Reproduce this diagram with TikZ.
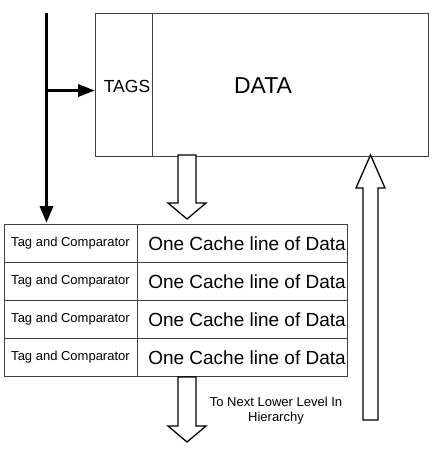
\documentclass[tikz,border=0pt]{standalone}
\usepackage{fontspec}
\setmainfont{Liberation Sans}
\usetikzlibrary{arrows.meta}
\begin{document}
\begin{tikzpicture}[x=1pt,y=-1pt,
  boxline/.style={draw=black!75,line width=0.9pt},
  thickarrow/.style={line width=3.4pt,-{Triangle[length=17pt,width=13pt]}},
  hollow/.style={draw=black,line width=1.3pt,fill=white,line join=miter},
  cell/.style={font=\fontsize{13}{15}\selectfont,inner sep=0pt},
  bigcell/.style={font=\fontsize{19}{22}\selectfont,inner sep=0pt}]
\useasboundingbox (0,0) rectangle (437,462);
% top block
\draw[boxline] (95,13) rectangle (428,156);
\draw[boxline] (152,13) -- (152,156);
\node[font=\fontsize{17.5}{20}\selectfont,inner sep=0pt] (tags) at (127,86) {TAGS};
\node[font=\fontsize{23}{26}\selectfont,inner sep=0pt] (data) at (263,86) {DATA};
\coordinate (topleft) at (95,90.5);
% table
\foreach \i/\y in {1/224,2/262,3/300,4/338}{
  \draw[boxline] (4,\y) rectangle (137,\y+38.3);
  \draw[boxline] (137,\y) rectangle (347,\y+38.3);
  \node[cell] (tag\i) at (70.5,\y+19.5) {Tag and Comparator};
  \node[bigcell] (line\i) at (247,\y+19.5) {One Cache line of Data};
}
% thick arrows
\coordinate (vtop) at (46.5,13);
\coordinate (vbot) at (46.5,223);
\coordinate (hstart) at (46.5,90.5);
\draw[thickarrow] (vtop) -- (vbot);
\draw[thickarrow,-{Triangle[length=17pt,width=12pt]}] (hstart) -- (topleft);
% hollow down arrow (top block to table)
\draw[hollow] (178,155) -- (196,155) -- (196,203) -- (206,203) -- (187,219) -- (168,203) -- (178,203) -- cycle;
% hollow down arrow (table to next level)
\draw[hollow] (178,377) -- (196,377) -- (196,426) -- (206,426) -- (187,442) -- (168,426) -- (178,426) -- cycle;
% hollow up arrow
\draw[hollow] (363,420) -- (378,420) -- (378,188) -- (385,188) -- (370.5,155) -- (356,188) -- (363,188) -- cycle;
\node[cell,align=center] (next) at (276,410.5) {To Next Lower Level In\\Hierarchy};
\end{tikzpicture}
\end{document}
